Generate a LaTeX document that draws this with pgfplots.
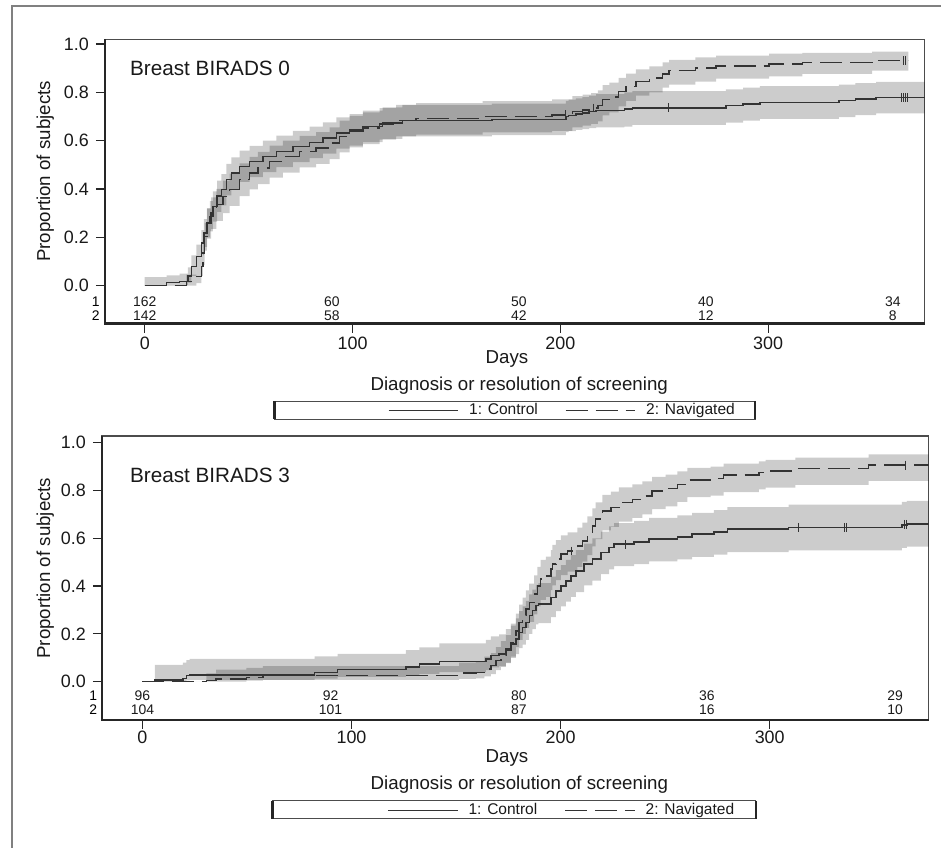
\documentclass[border=0pt]{standalone}
\usepackage{pgfplots}
\pgfplotsset{compat=1.18}
\usepackage{pgfplotstable}
\usepgfplotslibrary{fillbetween}
\usepackage{fontspec}
\setmainfont{Liberation Sans}

\pgfplotstableread{
x y lo hi
0 0 0 0.035
10.5 0.012 0 0.042
16.8 0.018 0.002 0.05
20.7 0.04 0.012 0.075
22.4 0.08 0.04 0.125
24.8 0.12 0.075 0.17
27.2 0.177 0.125 0.23
28.4 0.218 0.16 0.275
30.0 0.26 0.2 0.32
31.3 0.287 0.225 0.35
32.8 0.328 0.265 0.39
34.8 0.37 0.305 0.435
36.9 0.397 0.332 0.462
39.3 0.439 0.374 0.504
41.7 0.466 0.401 0.531
45.7 0.494 0.429 0.559
50.5 0.514 0.449 0.579
56.9 0.535 0.47 0.60
63.3 0.556 0.491 0.621
71.3 0.576 0.511 0.641
79.3 0.593 0.528 0.658
85.7 0.611 0.546 0.676
92.2 0.632 0.567 0.697
98.6 0.645 0.58 0.71
105 0.659 0.594 0.724
114.5 0.673 0.608 0.738
124 0.683 0.618 0.748
167 0.688 0.623 0.753
202.7 0.70 0.635 0.765
204 0.705 0.64 0.77
207.5 0.71 0.645 0.775
210.6 0.714 0.648 0.78
213.9 0.72 0.652 0.787
217.2 0.725 0.655 0.793
230.8 0.731 0.658 0.80
234.6 0.736 0.665 0.805
279.6 0.745 0.675 0.812
288 0.752 0.683 0.82
296 0.759 0.69 0.826
334 0.766 0.698 0.832
342 0.773 0.706 0.838
352 0.779 0.713 0.843
375.3 0.779 0.713 0.843
}\TC

\pgfplotstableread{
x y lo hi
0 0 0 0
20 0.018 0 0.045
24.8 0.038 0.01 0.075
27.3 0.08 0.04 0.125
28 0.135 0.085 0.185
28.8 0.204 0.145 0.26
29.9 0.26 0.195 0.32
32 0.30 0.235 0.365
34.5 0.335 0.268 0.40
37.6 0.369 0.30 0.435
40.9 0.397 0.33 0.464
45.7 0.439 0.37 0.506
50.5 0.466 0.398 0.533
54.5 0.487 0.42 0.554
60.1 0.514 0.447 0.58
66.5 0.535 0.468 0.60
74.5 0.556 0.49 0.62
82.5 0.57 0.504 0.635
89 0.59 0.524 0.655
93.8 0.618 0.552 0.683
98.6 0.638 0.572 0.703
105 0.652 0.586 0.717
113 0.67 0.604 0.735
121 0.684 0.618 0.748
130.6 0.691 0.625 0.755
162.6 0.70 0.634 0.764
196 0.707 0.641 0.771
205.8 0.721 0.655 0.785
210.7 0.728 0.662 0.791
214.8 0.735 0.67 0.797
218 0.745 0.68 0.808
220.3 0.77 0.705 0.83
223.6 0.78 0.717 0.84
228 0.804 0.742 0.86
231.6 0.825 0.765 0.878
236.4 0.845 0.787 0.895
242.8 0.859 0.80 0.908
249.2 0.877 0.82 0.924
252.4 0.89 0.832 0.935
265 0.90 0.845 0.945
274.9 0.91 0.857 0.952
300.5 0.917 0.866 0.96
316.5 0.924 0.877 0.964
350 0.931 0.89 0.969
367.5 0.931 0.89 0.969
}\TN

\pgfplotstableread{
x y lo hi
0 0 0 0
5.9 0.007 0 0.07
19.4 0.014 0 0.08
21 0.025 0.005 0.09
22.6 0.029 0.008 0.095
82.3 0.039 0.013 0.106
93.4 0.052 0.02 0.116
126 0.062 0.027 0.132
132.4 0.073 0.033 0.144
142 0.084 0.04 0.16
164.3 0.095 0.048 0.175
166.7 0.109 0.06 0.19
170.6 0.116 0.065 0.198
173.8 0.137 0.08 0.22
176.2 0.158 0.1 0.243
178.6 0.178 0.115 0.265
180.2 0.206 0.14 0.295
181.8 0.227 0.155 0.315
183.4 0.248 0.175 0.338
185 0.276 0.2 0.365
186.5 0.297 0.22 0.385
188.2 0.318 0.24 0.405
189.4 0.325 0.245 0.412
195.3 0.353 0.27 0.44
197.7 0.38 0.295 0.467
200.1 0.401 0.315 0.488
202.5 0.422 0.335 0.51
204.9 0.443 0.355 0.53
207.3 0.464 0.375 0.55
211.2 0.492 0.403 0.578
215.2 0.513 0.423 0.6
219.2 0.541 0.45 0.628
223.2 0.562 0.47 0.65
225.6 0.575 0.483 0.663
235.1 0.585 0.492 0.673
242.3 0.596 0.503 0.685
255.8 0.606 0.512 0.696
262.9 0.617 0.522 0.706
273.3 0.627 0.532 0.718
279.7 0.638 0.542 0.73
309.1 0.646 0.549 0.741
363.2 0.655 0.56 0.752
365.6 0.659 0.565 0.756
376 0.659 0.565 0.756
}\BC

\pgfplotstableread{
x y lo hi
0 0 0 0
30.6 0.004 0 0.035
35.3 0.011 0 0.05
49.7 0.018 0.004 0.058
57.6 0.025 0.008 0.065
151.5 0.036 0.012 0.08
159.5 0.039 0.014 0.085
163.5 0.053 0.022 0.105
166.7 0.067 0.032 0.12
169 0.088 0.048 0.145
171.4 0.109 0.062 0.17
173.8 0.13 0.078 0.195
176.2 0.165 0.105 0.235
178.6 0.213 0.145 0.285
180.2 0.248 0.175 0.322
181.8 0.276 0.2 0.352
183.4 0.304 0.225 0.382
185 0.332 0.25 0.41
187.3 0.366 0.282 0.445
188.9 0.401 0.315 0.48
190.5 0.429 0.342 0.51
192.9 0.443 0.355 0.523
195.3 0.471 0.383 0.55
196.1 0.492 0.403 0.572
197.7 0.513 0.425 0.592
200.1 0.534 0.446 0.612
203.3 0.547 0.46 0.625
208 0.568 0.48 0.645
210.4 0.589 0.502 0.665
212.8 0.617 0.53 0.692
215.2 0.652 0.566 0.725
216.8 0.68 0.596 0.75
220 0.715 0.633 0.782
224 0.729 0.648 0.795
227.9 0.75 0.67 0.813
234.3 0.763 0.685 0.825
239.1 0.777 0.70 0.838
243.8 0.798 0.722 0.857
250.2 0.808 0.733 0.866
255.8 0.826 0.752 0.88
260.6 0.844 0.772 0.895
271.7 0.85 0.778 0.9
278 0.864 0.793 0.912
294.8 0.875 0.805 0.922
298 0.882 0.812 0.928
312.3 0.892 0.823 0.937
347.3 0.906 0.84 0.951
376 0.906 0.84 0.951
}\BN

\pgfplotsset{
  kmaxis/.style={
    scale only axis,
    xtick={0,100,200,300},
    ytick={0,0.2,0.4,0.6,0.8,1.0},
    tick pos=left,
    tick align=outside,
    major tick length=4.5bp,
    tick style={black!85, line width=0.6bp},
    axis line style={black!70, line width=0.6bp},
    /pgf/number format/assume math mode=true,
    ticklabel style={font=\fontsize{9}{10}\selectfont, text=black!90},
    yticklabel style={/pgf/number format/.cd, fixed, fixed zerofill, precision=1},
    ylabel={Proportion of subjects},
    xlabel={Days},
    label style={font=\fontsize{9.4}{11}\selectfont, text=black!90},
    clip=false,
    legend style={draw=none, fill=none, inner xsep=0pt, inner ysep=0pt,
      font=\fontsize{7.8}{9}\selectfont, text=black!90,
      /tikz/every odd column/.append style={column sep=3bp},
      /tikz/every even column/.append style={column sep=11.5bp}},
    legend columns=2,
    legend image code/.code={\draw[##1] (0bp,0bp) -- (35bp,0bp);},
  },
  band/.style={fill=black, fill opacity=0.2, draw=none, forget plot},
  ctrl/.style={const plot, line width=0.75bp, black!80},
  navi/.style={const plot, line width=0.75bp, black!80, dash pattern=on 11bp off 4bp},
  cens/.style={only marks, mark=|, mark size=2.2bp, black!80, mark options={line width=0.5bp}, forget plot},
  risk/.style={draw=none, forget plot, nodes near coords, point meta=explicit symbolic,
    every node near coord/.append style={font=\fontsize{7}{8}\selectfont, text=black!90, anchor=center, inner sep=0pt}},
}

\begin{document}
\begin{tikzpicture}
\path (0,0) rectangle (471bp,-424.5bp);
\draw[black!50, line width=1.4bp] (6bp,-424.5bp) -- (6bp,-3bp) -- (471bp,-3bp);

% ---------------- top panel ----------------
\begin{axis}[kmaxis,
  at={(52.5bp,-162bp)}, anchor=south west,
  width=410.5bp, height=142.35bp,
  xmin=-19.2, xmax=375.3, ymin=-0.157, ymax=1.02,
  xticklabel style={yshift=1.3bp},
  ylabel style={at={(axis description cs:-0.0725,0.535)}, anchor=center},
  xlabel style={at={(axis description cs:0.4905,-0.142)}, anchor=base},
  legend style={at={(axis description cs:0.3447,-0.3056)}, anchor=west},
]
\addplot[const plot, draw=none, name path=tcl, forget plot] table[x=x,y=lo] {\TC};
\addplot[const plot, draw=none, name path=tch, forget plot] table[x=x,y=hi] {\TC};
\addplot[band] fill between[of=tcl and tch];
\addplot[const plot, draw=none, name path=tnl, forget plot] table[x=x,y=lo] {\TN};
\addplot[const plot, draw=none, name path=tnh, forget plot] table[x=x,y=hi] {\TN};
\addplot[band] fill between[of=tnl and tnh];
\addplot[ctrl, forget plot] table[x=x,y=y] {\TC};
\addplot[navi, forget plot] table[x=x,y=y] {\TN};
\addplot[cens] table[x=x,y=y] {
x y
252 0.736
364 0.779
365 0.779
366 0.779
367 0.779
};
\addplot[cens] table[x=x,y=y] {
x y
202.6 0.707
216 0.735
365 0.931
366 0.931
};
\addplot[risk] table[x=x,y=y,meta=n] {
x y n
0 -0.066 162
90 -0.066 60
180 -0.066 50
270 -0.066 40
360 -0.066 34
};
\addplot[risk] table[x=x,y=y,meta=n] {
x y n
0 -0.124 142
90 -0.124 58
180 -0.124 42
270 -0.124 12
360 -0.124 8
};
\node[anchor=east, font=\fontsize{7}{8}\selectfont, inner sep=0pt] at (axis cs:-21.5,-0.066) {1};
\node[anchor=east, font=\fontsize{7}{8}\selectfont, inner sep=0pt] at (axis cs:-21.5,-0.124) {2};
\node[anchor=base west, font=\fontsize{10.4}{12}\selectfont, inner sep=0pt, text=black!90] at (axis cs:-7.2,0.870) {Breast BIRADS 0};
\node[anchor=base, font=\fontsize{9.4}{11}\selectfont, inner sep=0pt, text=black!90] at (axis description cs:0.5055,-0.234) {Diagnosis or resolution of screening};
\draw[black!70, line width=0.6bp] (axis description cs:0.207,-0.273) rectangle (axis description cs:0.793,-0.337);
\draw[black!85, line width=1.2bp] (axis description cs:0.793,-0.273) -- (axis description cs:0.793,-0.337);
\draw[black!85, line width=1.1bp] (axis description cs:0.207,-0.273) -- (axis description cs:0.207,-0.337);
\draw[line width=1.1bp, black!85] (axis description cs:0,1) -- (axis description cs:0,0) -- (axis description cs:1,0);
\addlegendimage{line width=0.75bp, black!80}
\addlegendentry{1: Control}
\addlegendimage{line width=0.75bp, black!80, dash pattern=on 11bp off 4bp}
\addlegendentry{2: Navigated}
\end{axis}

% ---------------- bottom panel ----------------
\begin{axis}[kmaxis,
  at={(51bp,-360.5bp)}, anchor=south west,
  width=414bp, height=142.15bp,
  xmin=-19.4, xmax=376, ymin=-0.16, ymax=1.0276,
  xticklabel style={yshift=2.6bp},
  ylabel style={at={(axis description cs:-0.0685,0.535)}, anchor=center},
  xlabel style={at={(axis description cs:0.49,-0.151)}, anchor=base},
  legend style={at={(axis description cs:0.3447,-0.319)}, anchor=west},
]
\addplot[const plot, draw=none, name path=bcl, forget plot] table[x=x,y=lo] {\BC};
\addplot[const plot, draw=none, name path=bch, forget plot] table[x=x,y=hi] {\BC};
\addplot[band] fill between[of=bcl and bch];
\addplot[const plot, draw=none, name path=bnl, forget plot] table[x=x,y=lo] {\BN};
\addplot[const plot, draw=none, name path=bnh, forget plot] table[x=x,y=hi] {\BN};
\addplot[band] fill between[of=bnl and bnh];
\addplot[ctrl, forget plot] table[x=x,y=y] {\BC};
\addplot[navi, forget plot] table[x=x,y=y] {\BN};
\addplot[cens] table[x=x,y=y] {
x y
231 0.575
314 0.646
336 0.646
336.8 0.646
364.5 0.659
365.6 0.659
};
\addplot[cens] table[x=x,y=y] {
x y
205 0.547
364.8 0.906
};
\addplot[risk] table[x=x,y=y,meta=n] {
x y n
0 -0.0585 96
90 -0.0585 92
180 -0.0585 80
270 -0.0585 36
360 -0.0585 29
};
\addplot[risk] table[x=x,y=y,meta=n] {
x y n
0 -0.118 104
90 -0.118 101
180 -0.118 87
270 -0.118 16
360 -0.118 10
};
\node[anchor=east, font=\fontsize{7}{8}\selectfont, inner sep=0pt] at (axis cs:-21.5,-0.0585) {1};
\node[anchor=east, font=\fontsize{7}{8}\selectfont, inner sep=0pt] at (axis cs:-21.5,-0.118) {2};
\node[anchor=base west, font=\fontsize{10.4}{12}\selectfont, inner sep=0pt, text=black!90] at (axis cs:-6.1,0.833) {Breast BIRADS 3};
\node[anchor=base, font=\fontsize{9.4}{11}\selectfont, inner sep=0pt, text=black!90] at (axis description cs:0.505,-0.245) {Diagnosis or resolution of screening};
\draw[black!70, line width=0.6bp] (axis description cs:0.2065,-0.285) rectangle (axis description cs:0.791,-0.348);
\draw[black!85, line width=1.2bp] (axis description cs:0.791,-0.285) -- (axis description cs:0.791,-0.348);
\draw[black!85, line width=1.1bp] (axis description cs:0.2065,-0.285) -- (axis description cs:0.2065,-0.348);
\draw[line width=1.1bp, black!85] (axis description cs:0,1) -- (axis description cs:0,0) -- (axis description cs:1,0);
\addlegendimage{line width=0.75bp, black!80}
\addlegendentry{1: Control}
\addlegendimage{line width=0.75bp, black!80, dash pattern=on 11bp off 4bp}
\addlegendentry{2: Navigated}
\end{axis}
\end{tikzpicture}
\end{document}
